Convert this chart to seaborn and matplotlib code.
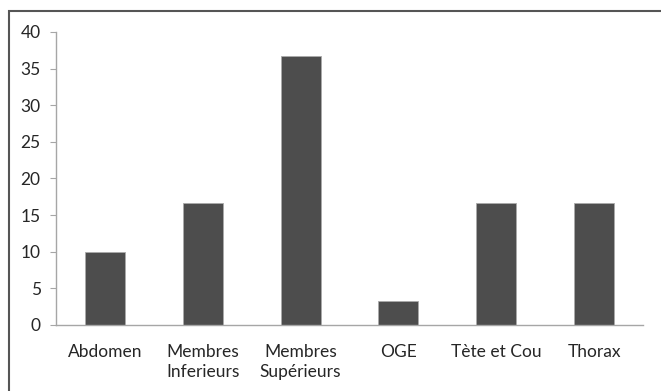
import pandas as pd
import numpy as np
import matplotlib.pyplot as plt
import seaborn as sns
from matplotlib.patches import Rectangle

categories = ["Abdomen", "Membres\nInferieurs", "Membres\nSupérieurs", "OGE", "Tète et Cou", "Thorax"]
values = [10.0, 16.67, 36.67, 3.33, 16.67, 16.67]

sns.set_style("white")
plt.rcParams['font.family'] = ['Lato', 'DejaVu Sans']

df = pd.DataFrame({"Region": categories, "Pourcentage": values})

fig = plt.figure(figsize=(6.61, 3.91), dpi=100)
ax = fig.add_axes([0.0847, 0.1688, 0.8881, 0.7494])

sns.barplot(data=df, x="Region", y="Pourcentage", color="#4d4d4d", width=0.41,
            saturation=1, edgecolor="#aaaaaa", linewidth=0.6, ax=ax)

ax.set_ylim(0, 40)
ax.set_yticks(np.arange(0, 41, 5))
ax.set_xlim(-0.5, len(categories) - 0.5)
ax.set_xlabel("")
ax.set_ylabel("")

for s in ["top", "right"]:
    ax.spines[s].set_visible(False)
for s in ["left", "bottom"]:
    ax.spines[s].set_color("#a6a6a6")
    ax.spines[s].set_linewidth(1.0)

# Excel-style ticks between categories
ax.set_xticks(np.arange(-0.5, len(categories), 1.0), minor=True)
ax.tick_params(axis="x", which="major", length=0, pad=14, labelsize=12.5, labelcolor="#262626")
ax.tick_params(axis="x", which="minor", length=4, color="#a6a6a6", direction="out")
ax.tick_params(axis="y", length=4, color="#a6a6a6", direction="out", left=True,
               labelsize=12.5, labelcolor="#262626", pad=7)
for lbl in ax.get_xticklabels():
    lbl.set_linespacing(1.3)

# outer frame
fig.patches.append(Rectangle((9 / 661, -0.1), 1.2, 1 - 10.5 / 391 + 0.1,
                             transform=fig.transFigure, fill=False,
                             edgecolor="#555555", linewidth=1.5))

fig.savefig("out.png", dpi=100)
